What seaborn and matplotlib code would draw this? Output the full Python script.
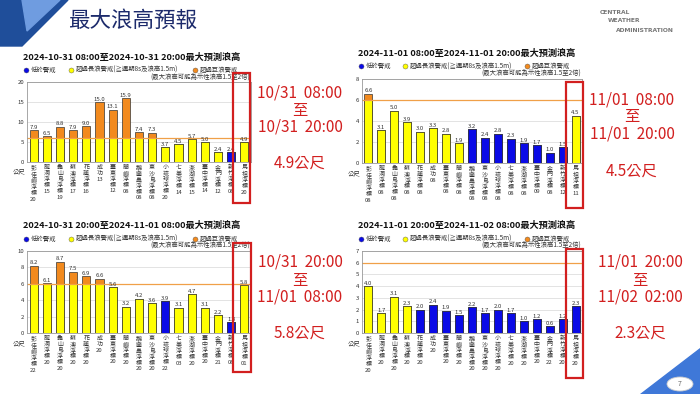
import seaborn as sns
import matplotlib.pyplot as plt
import matplotlib.patches as mpatches
import pandas as pd

# stations (same order in all four charts)
stations = ["彭佳嶼浮標", "龍洞浮標", "龜山島浮標", "蘇澳浮標", "花蓮浮標", "成功",
            "臺東浮標", "蘭嶼浮標", "鵝鑾鼻浮標", "東沙島浮標", "小琉球浮標", "七美浮標",
            "澎湖浮標", "臺中浮標", "金門浮標", "新竹浮標", "馬祖浮標"]

# chart 1: 10/31 08-20
title1 = "2024-10-31 08:00至2024-10-31 20:00最大預測浪高"
hours1 = ["20", "15", "19", "17", "16", "13", "12", "08", "08", "08", "20", "14", "15", "14", "12", "08", "20"]
wave1 = [7.9, 6.5, 8.8, 7.9, 9.0, 15.0, 13.1, 15.9, 7.4, 7.3, 3.7, 4.5, 5.7, 5.0, 2.4, 2.4, 4.9]
level1 = ["Y"] * 15 + ["B", "Y"]

# chart 2: 11/01 08-20
title2 = "2024-11-01 08:00至2024-11-01 20:00最大預測浪高"
hours2 = ["08"] * 13 + ["09", "08", "12", "11"]
wave2 = [6.6, 3.1, 5.0, 3.9, 3.0, 3.3, 2.8, 1.9, 3.2, 2.4, 2.8, 2.3, 1.9, 1.7, 1.0, 1.5, 4.5]
level2 = ["Y"] * 8 + ["B"] * 8 + ["Y"]

# chart 3: 10/31 20 - 11/01 08
title3 = "2024-10-31 20:00至2024-11-01 08:00最大預測浪高"
hours3 = ["22", "20", "20", "20", "20", "20", "20", "20", "20", "20", "22", "03", "20", "20", "21", "08", "01"]
wave3 = [8.2, 6.1, 8.7, 7.5, 6.9, 6.6, 5.6, 3.2, 4.2, 3.6, 3.9, 3.1, 4.7, 3.1, 2.2, 1.3, 5.8]
level3 = ["Y"] * 10 + ["B"] + ["Y"] * 4 + ["B", "Y"]

# chart 4: 11/01 20 - 11/02 08
title4 = "2024-11-01 20:00至2024-11-02 08:00最大預測浪高"
hours4 = ["20"] * 14 + ["22", "20", "20"]
wave4 = [4.0, 1.7, 3.1, 2.3, 2.0, 2.4, 1.9, 1.5, 2.2, 1.7, 2.0, 1.7, 1.0, 1.2, 0.6, 1.2, 2.3]
level4 = ["Y"] * 4 + ["B"] * 13

ylims = [(20, [0, 5, 10, 15, 20]), (8, [0, 2, 4, 6, 8]), (10, [0, 2, 4, 6, 8, 10]), (7, list(range(8)))]
notes = [("10/31  08:00", "10/31  20:00", "4.9公尺"),
         ("11/01  08:00", "11/01  20:00", "4.5公尺"),
         ("10/31  20:00", "11/01  08:00", "5.8公尺"),
         ("11/01  20:00", "11/02  02:00", "2.3公尺")]

YEL = "#ffff00"
ORA = "#f28a1e"
BLU = "#0a0ae6"
RED = "#d21f1f"
LIMIT = 6

sns.set_theme(style="white")
plt.rcParams['font.family'] = ['Noto Sans CJK TC', 'DejaVu Sans']

W, H = 700, 394
fig = plt.figure(figsize=(7, 3.94), dpi=100)
fig.patch.set_facecolor("white")


def fx(x):
    return x / W


def fy(y):
    return 1 - y / H


# slide decoration
fig.patches.append(mpatches.Polygon([(fx(0), fy(0)), (fx(68), fy(0)), (fx(22), fy(46)), (fx(0), fy(46))],
                                    closed=True, transform=fig.transFigure, color="#1f4e9a", zorder=0))
fig.patches.append(mpatches.Polygon([(fx(22), fy(0)), (fx(60), fy(0)), (fx(27), fy(31))],
                                    closed=True, transform=fig.transFigure, color="#6f9ce0", zorder=1))
fig.patches.append(mpatches.Polygon([(fx(640), fy(394)), (fx(700), fy(394)), (fx(700), fy(348))],
                                    closed=True, transform=fig.transFigure, color="#3f78d8", zorder=0))
fig.patches.append(mpatches.Ellipse((fx(680), fy(384)), fx(26), 14 / H, transform=fig.transFigure,
                                    facecolor="white", edgecolor="#cccccc", lw=0.6, zorder=2))
fig.text(fx(680), fy(384), "7", fontsize=5, color="#666666", ha="center", va="center", zorder=3)
fig.text(fx(68), fy(21), "最大浪高預報", fontsize=15.5, color="#1c2a6b", ha="left", va="center")
for i, t in enumerate(["CENTRAL", "WEATHER", "ADMINISTRATION"]):
    fig.text(fx(600 + i * 8), fy(12 + i * 9), t, fontsize=4.3, color="#777777", ha="left", va="center",
             family="DejaVu Sans", weight="bold")

rects = [(27, 82, 224, 80), (362, 79, 220, 84), (27, 251, 224, 82), (362, 251, 220, 82)]
boxes = [(233, 73, 17, 130), (566, 82, 17, 126), (233, 243, 18, 129), (566, 249, 17, 129)]
note_pos = [(300, 93, 111, 127, 163), (632, 100, 117, 134, 171),
            (300, 262, 280, 297, 333), (640, 262, 280, 297, 333)]

charts = [(title1, hours1, wave1, level1), (title2, hours2, wave2, level2),
          (title3, hours3, wave3, level3), (title4, hours4, wave4, level4)]

for k, (title, hours, wave, level) in enumerate(charts):
    l, t, w, h = rects[k]
    ax = fig.add_axes([fx(l), fy(t + h), w / W, h / H])
    ticks = ["\n".join(s) + "\n" + hr for s, hr in zip(stations, hours)]
    base = [min(v, LIMIT) if lv == "Y" else v for v, lv in zip(wave, level)]
    base_col = [YEL if lv == "Y" else BLU for lv in level]
    top_col = [ORA if (lv == "Y" and v > LIMIT) else c for v, lv, c in zip(wave, level, base_col)]
    df = pd.DataFrame({"station": ticks, "wave": wave, "base": base})

    ax.set_axisbelow(True)
    ax.yaxis.grid(True, color="#d8d8d8", lw=0.5)
    sns.barplot(data=df, x="station", y="wave", hue="station", palette=top_col, width=0.62,
                edgecolor="#333333", linewidth=0.5, legend=False, ax=ax, saturation=1)
    tops = list(ax.containers)
    sns.barplot(data=df, x="station", y="base", hue="station", palette=base_col, width=0.62,
                edgecolor="#333333", linewidth=0.5, legend=False, ax=ax, saturation=1)
    for c, v in zip(tops, wave):
        ax.bar_label(c, labels=[f"{v:.1f}"], fontsize=4.3, padding=0.3, color="#333333")
    ax.axhline(LIMIT, color="#f0a048", lw=0.9, zorder=1.5)

    ymax, yt = ylims[k]
    ax.set_ylim(0, ymax)
    ax.set_yticks(yt)
    ax.set_xlim(-0.5, len(stations) - 0.5)
    ax.set_xlabel("")
    ax.set_ylabel("")
    ax.tick_params(axis="both", length=0, pad=2, labelsize=4.3, colors="#333333")
    for lbl in ax.get_xticklabels():
        lbl.set_linespacing(1.2)
        lbl.set_va("top")
    for s in ax.spines.values():
        s.set_color("#999999")
        s.set_linewidth(0.6)

    ax.text(-0.008, -0.07, "公尺", transform=ax.transAxes, fontsize=4.6, ha="right", va="top", color="#333333")
    ax.text(-0.02, 1.31, title, transform=ax.transAxes, fontsize=6.6, weight="bold", ha="left", va="center",
            color="#111111")
    leg = [(-0.005, BLU, "低於警戒"), (0.195, YEL, "超過長浪警戒(≧週期8s及浪高1.5m)"), (0.75, ORA, "超過巨浪警戒")]
    for x0, col, txt in leg:
        ax.plot([x0], [1.15], "o", color=col, mec="#555555", mew=0.3, ms=3.6, transform=ax.transAxes,
                clip_on=False)
        ax.text(x0 + 0.022, 1.15, txt, transform=ax.transAxes, fontsize=4.6, ha="left", va="center",
                color="#333333")
    ax.text(0.995, 1.06, "(最大浪高可能為示性浪高1.5至2倍)", transform=ax.transAxes, fontsize=4.6,
            ha="right", va="center", color="#333333")

    bx, by, bw, bh = boxes[k]
    fig.patches.append(mpatches.Rectangle((fx(bx), fy(by + bh)), bw / W, bh / H, transform=fig.transFigure,
                                          fill=False, edgecolor=RED, lw=1.6, zorder=5))
    cx, y1, y2, y3, y4 = note_pos[k]
    n1, n2, n3 = notes[k]
    fig.text(fx(cx), fy(y1), n1, fontsize=11, color=RED, ha="center", va="center")
    fig.text(fx(cx), fy(y2), "至", fontsize=11, color=RED, ha="center", va="center")
    fig.text(fx(cx), fy(y3), n2, fontsize=11, color=RED, ha="center", va="center")
    fig.text(fx(cx), fy(y4), n3, fontsize=11, color=RED, ha="center", va="center")

fig.savefig("out.png", dpi=100)
